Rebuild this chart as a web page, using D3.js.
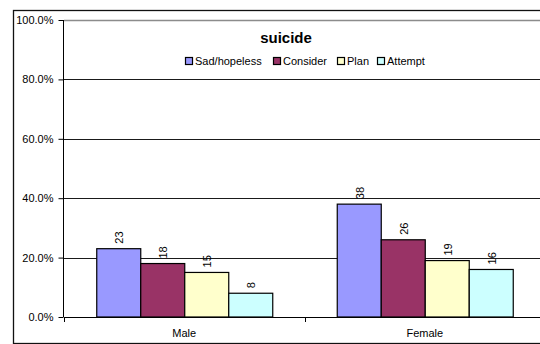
<!DOCTYPE html>
<html>
<head>
<meta charset="utf-8">
<script src="https://cdn.jsdelivr.net/npm/d3@7"></script>
<style>
  html, body { margin: 0; padding: 0; background: #fff; }
  svg { display: block; font-family: Arial, "Liberation Sans", sans-serif; }
</style>
</head>
<body>
<svg id="chart" width="540" height="344"></svg>
<script>
// Share of students reporting each suicide indicator, by sex (%)
const categories = ["Male", "Female"];
const seriesNames = ["Sad/hopeless", "Consider", "Plan", "Attempt"];
const sadHopeless = [23, 38];
const consider = [18, 26];
const plan = [15, 19];
const attempt = [8, 16];
const yTicks = [0, 20, 40, 60, 80, 100];
const seriesColors = ["#9999FF", "#993366", "#FFFFCC", "#CCFFFF"];

const seriesValues = [sadHopeless, consider, plan, attempt];
const rows = categories.map((c, i) => ({
  category: c,
  values: seriesNames.map((s, j) => ({ series: s, value: seriesValues[j][i], color: seriesColors[j] }))
}));

const svg = d3.select("#chart");

const plot = { left: 64, right: 545, top: 20, bottom: 317 };

const x0 = d3.scaleBand().domain(categories).range([plot.left, plot.right]).padding(0);
const x1 = d3.scaleBand().domain(seriesNames).range([0, x0.bandwidth()])
  .paddingInner(0).paddingOuter(0.733);
const y = d3.scaleLinear().domain([0, 100]).range([plot.bottom, plot.top]);

// Outer chart frame (extends past the right edge)
svg.append("rect")
  .attr("x", 13.5).attr("y", 10.5)
  .attr("width", 600).attr("height", 333)
  .attr("fill", "#fff").attr("stroke", "#111").attr("stroke-width", 1.3);

// Horizontal gridlines
svg.append("g")
  .selectAll("line")
  .data(yTicks.filter(t => t > 0))
  .join("line")
  .attr("x1", plot.left).attr("x2", 540)
  .attr("y1", d => Math.round(y(d)) + 0.5).attr("y2", d => Math.round(y(d)) + 0.5)
  .attr("stroke", d => d === 100 ? "#8c8c8c" : "#1a1a1a")
  .attr("stroke-width", d => d === 100 ? 1.5 : 1);

// Y axis
const yAxis = d3.axisLeft(y)
  .tickValues(yTicks)
  .tickSize(5)
  .tickPadding(5)
  .tickFormat(d => d3.format(".1f")(d) + "%");
const gy = svg.append("g")
  .attr("transform", `translate(${plot.left - 0.5},0)`)
  .call(yAxis);
gy.select(".domain").attr("stroke", "#000").attr("d", `M0,${plot.top}V${plot.bottom}`);
gy.selectAll(".tick line").attr("stroke", "#000");
gy.selectAll(".tick text").attr("font-size", 11).attr("fill", "#000")
  .attr("font-family", "Arial, 'Liberation Sans', sans-serif");

// Bars
const groups = svg.append("g")
  .selectAll("g")
  .data(rows)
  .join("g")
  .attr("transform", d => `translate(${x0(d.category)},0)`);

groups.selectAll("rect")
  .data(d => d.values)
  .join("rect")
  .attr("x", d => x1(d.series) + 0.5)
  .attr("y", d => y(d.value))
  .attr("width", x1.bandwidth())
  .attr("height", d => y(0) - y(d.value))
  .attr("fill", d => d.color)
  .attr("stroke", "#000")
  .attr("stroke-width", 1.2);

// Value labels, rotated
groups.selectAll("text")
  .data(d => d.values)
  .join("text")
  .attr("transform", d => `translate(${x1(d.series) + x1.bandwidth() / 2 + 5},${y(d.value) - 5}) rotate(-90)`)
  .attr("text-anchor", "start")
  .attr("font-size", 11)
  .attr("fill", "#000")
  .text(d => d.value);

// X axis
const xAxis = d3.axisBottom(x0).tickSize(0).tickPadding(12);
const gx = svg.append("g")
  .attr("transform", `translate(0,${plot.bottom + 0.5})`)
  .call(xAxis);
gx.select(".domain").attr("stroke", "#000").attr("d", `M${plot.left},0H540`);
gx.selectAll(".tick text").attr("font-size", 11).attr("fill", "#000")
  .attr("font-family", "Arial, 'Liberation Sans', sans-serif");

// Category separator ticks
svg.append("g")
  .selectAll("line")
  .data(categories)
  .join("line")
  .attr("x1", d => Math.round(x0(d)) + 0.5).attr("x2", d => Math.round(x0(d)) + 0.5)
  .attr("y1", plot.bottom).attr("y2", plot.bottom + 5)
  .attr("stroke", "#000");

// Title
svg.append("text")
  .attr("x", 286).attr("y", 43)
  .attr("text-anchor", "middle")
  .attr("font-size", 15).attr("font-weight", "bold")
  .attr("fill", "#000")
  .text("suicide");

// Legend
const legendX = [185, 273, 337, 377];
const legend = svg.append("g")
  .selectAll("g")
  .data(seriesNames)
  .join("g")
  .attr("transform", (d, i) => `translate(${legendX[i]},57)`);
legend.append("rect")
  .attr("x", 0.5).attr("y", 0.5).attr("width", 7).attr("height", 7)
  .attr("fill", (d, i) => seriesColors[i])
  .attr("stroke", "#000").attr("stroke-width", 1.2);
legend.append("text")
  .attr("x", 10).attr("y", 7.5)
  .attr("font-size", 11).attr("fill", "#000")
  .text(d => d);
</script>
</body>
</html>
